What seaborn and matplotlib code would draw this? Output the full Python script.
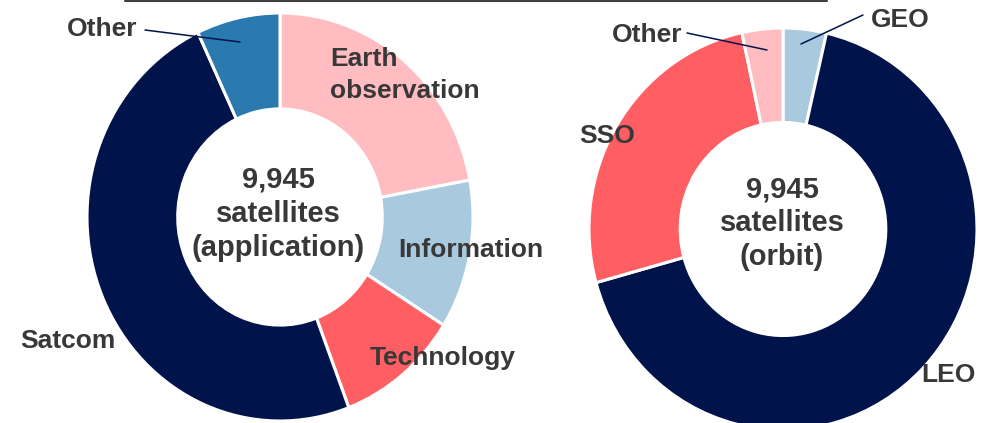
import matplotlib
matplotlib.use("Agg")
import matplotlib.pyplot as plt
import seaborn as sns

# share of the 9,945 satellites (percent)
APP_LABELS = ["Earth observation", "Information", "Technology", "Satcom", "Other"]
APP_SHARE = [22.1, 11.8, 10.3, 48.8, 7.0]
APP_COLORS = ["#FFBCC1", "#A9C9DF", "#FF5E63", "#00144B", "#2A7AB0"]

ORBIT_LABELS = ["GEO", "LEO", "SSO", "Other"]
ORBIT_SHARE = [3.6, 67.1, 25.9, 3.4]
ORBIT_COLORS = ["#A9C9DF", "#00144B", "#FF5E63", "#FFBCC1"]

TOTAL = "9,945"

W, H = 984, 423
TXT = "#383838"
NAVY = "#00144B"

sns.set_theme(style="white")
plt.rcParams["font.family"] = ["Liberation Sans", "DejaVu Sans"]

fig = plt.figure(figsize=(W / 100, H / 100), dpi=100)


def donut(cx, cy, rx, ry, values, colors):
    # axes box = bounding box of the (slightly oval) ring, in pixels
    ax = fig.add_axes([(cx - rx) / W, (H - cy - ry) / H, 2 * rx / W, 2 * ry / H])
    ax.pie(values, colors=colors, startangle=90, counterclock=False,
           wedgeprops=dict(width=0.47, edgecolor="white", linewidth=2.2))
    ax.set_xlim(-1, 1)
    ax.set_ylim(-1, 1)
    ax.set_aspect("auto")
    ax.axis("off")
    return ax


donut(280, 217, 193, 204, APP_SHARE, APP_COLORS)
donut(783, 229, 194, 201, ORBIT_SHARE, ORBIT_COLORS)

# overlay in pixel coordinates for labels and leader lines
ov = fig.add_axes([0, 0, 1, 1])
ov.set_xlim(0, W)
ov.set_ylim(H, 0)
ov.axis("off")
ov.patch.set_alpha(0)

lab = dict(color=TXT, fontsize=19, fontweight="bold", va="baseline")
cen = dict(color=TXT, fontsize=21, fontweight="bold", va="baseline", ha="center")

# top rule
ov.plot([125, 827], [1, 1], color="#404040", lw=1.5)

# application ring
ov.text(102, 36, APP_LABELS[4], ha="center", **lab)
ov.plot([145, 240], [30, 42], color=NAVY, lw=1.1)
ov.text(330, 66, "Earth", ha="left", **lab)
ov.text(330, 98, "observation", ha="left", **lab)
ov.text(471, 257, APP_LABELS[1], ha="center", **lab)
ov.text(443, 365, APP_LABELS[2], ha="center", **lab)
ov.text(68, 348, APP_LABELS[3], ha="center", **lab)
for y, s in zip([188, 222, 256], [TOTAL, "satellites", "(application)"]):
    ov.text(278, y, s, **cen)

# orbit ring
ov.text(900, 27, ORBIT_LABELS[0], ha="center", **lab)
ov.plot([863, 801], [15, 44], color=NAVY, lw=1.1)
ov.text(647, 42, ORBIT_LABELS[3], ha="center", **lab)
ov.plot([687, 767], [33, 50], color=NAVY, lw=1.1)
ov.text(607, 143, ORBIT_LABELS[2], ha="center", **lab)
ov.text(948, 382, ORBIT_LABELS[1], ha="center", **lab)
for y, s in zip([197, 231, 265], [TOTAL, "satellites", "(orbit)"]):
    ov.text(782, y, s, **cen)

fig.savefig("out.png", dpi=100, facecolor="white")
